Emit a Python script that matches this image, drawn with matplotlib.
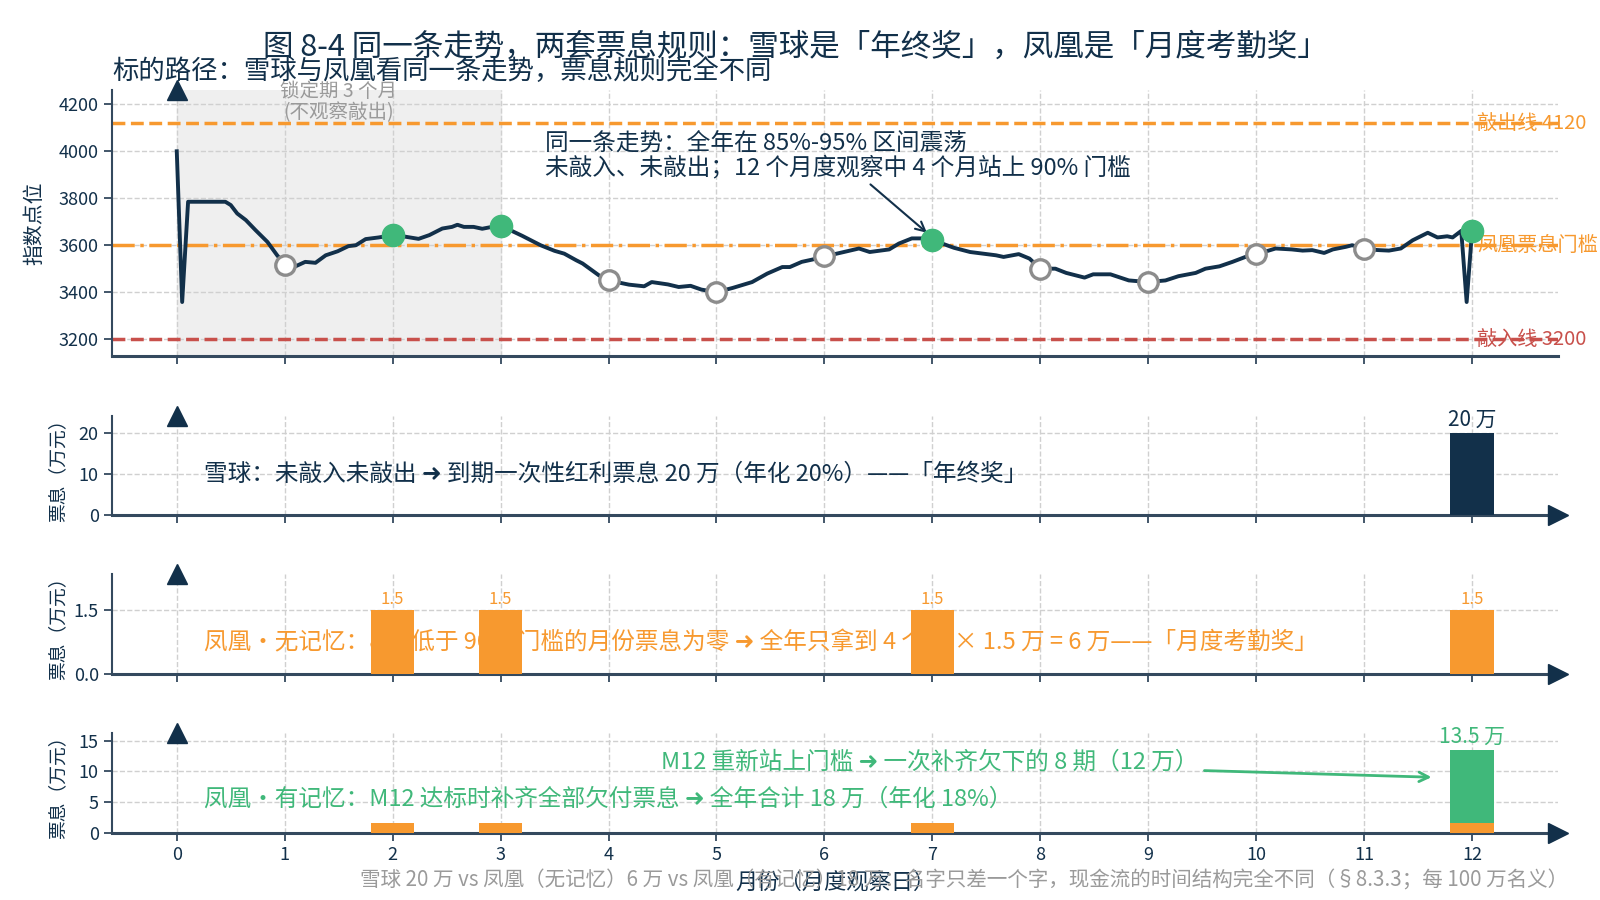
import matplotlib
matplotlib.use("Agg")
import matplotlib.pyplot as plt

plt.rcParams['font.family'] = ['Noto Sans CJK SC', 'DejaVu Sans']
plt.rcParams['axes.unicode_minus'] = False

NAVY = "#12304a"
ORANGE = "#f7992f"
RED = "#c8504b"
GREEN = "#40b87a"
RING = "#8c8c8c"
SPINE = "#34495e"
GRID = "#d0d0d0"

# ---------------------------------------------------------------------------
# data
# ---------------------------------------------------------------------------
months = list(range(13))
obs_months = list(range(1, 13))
obs_level = [3517, 3643, 3683, 3452, 3400, 3552, 3622, 3500, 3443, 3561, 3583, 3660]

path_x = [0.00, 0.05, 0.105, 0.45, 0.50, 0.56, 0.64, 0.73, 0.84, 0.93,
          1.00, 1.10, 1.19, 1.285, 1.38, 1.49, 1.59, 1.66, 1.75, 1.87,
          2.00, 2.12, 2.24, 2.34, 2.46, 2.55, 2.60, 2.66, 2.75, 2.83, 2.92,
          3.00, 3.09, 3.20, 3.37, 3.50, 3.59, 3.70, 3.76, 3.91,
          4.00, 4.19, 4.33, 4.40, 4.55, 4.65, 4.76, 4.86,
          5.00, 5.15, 5.33, 5.47, 5.61, 5.68, 5.79, 5.89,
          6.00, 6.18, 6.32, 6.42, 6.60, 6.69, 6.81, 6.92,
          7.00, 7.20, 7.35, 7.59, 7.66, 7.80, 7.90,
          8.00, 8.14, 8.24, 8.41, 8.49, 8.65, 8.82,
          9.00, 9.16, 9.28, 9.44, 9.53, 9.66, 9.78, 9.90,
          10.00, 10.18, 10.33, 10.43, 10.52, 10.63, 10.71, 10.83, 10.89,
          11.00, 11.14, 11.23, 11.34, 11.45, 11.59, 11.68, 11.77, 11.82, 11.90, 11.95,
          12.00]
path_y = [4000, 3358, 3785, 3785, 3771, 3735, 3707, 3664, 3614, 3557,
          3519, 3510, 3529, 3525, 3557, 3574, 3596, 3600, 3626, 3633,
          3643, 3636, 3627, 3643, 3671, 3678, 3687, 3678, 3678, 3670, 3678,
          3680, 3664, 3640, 3600, 3576, 3564, 3536, 3522, 3472,
          3450, 3432, 3425, 3443, 3433, 3422, 3427, 3411,
          3400, 3418, 3443, 3479, 3507, 3507, 3529, 3539,
          3552, 3571, 3586, 3571, 3582, 3607, 3629, 3629,
          3622, 3589, 3571, 3557, 3550, 3562, 3543,
          3500, 3500, 3482, 3462, 3476, 3476, 3450,
          3443, 3450, 3468, 3482, 3500, 3510, 3529, 3550,
          3561, 3586, 3582, 3577, 3579, 3567, 3582, 3593, 3600,
          3583, 3579, 3577, 3586, 3621, 3653, 3633, 3638, 3633, 3661, 3358,
          3660]

knock_out = 4120
coupon_barrier = 3600
knock_in = 3200

snowball_coupon = [0, 0, 0, 0, 0, 0, 0, 0, 0, 0, 0, 0, 20]
phoenix_nomem = [0, 0, 1.5, 1.5, 0, 0, 0, 1.5, 0, 0, 0, 0, 1.5]
phoenix_mem_paid = [0, 0, 1.5, 1.5, 0, 0, 0, 1.5, 0, 0, 0, 0, 1.5]
phoenix_mem_catchup = [0, 0, 0, 0, 0, 0, 0, 0, 0, 0, 0, 0, 12]

# ---------------------------------------------------------------------------
fig, axes = plt.subplots(4, 1, figsize=(16, 9), dpi=100, sharex=True,
                         gridspec_kw=dict(height_ratios=[2.68, 1, 1, 1]))
fig.subplots_adjust(left=0.070, right=0.974, top=0.900, bottom=0.075, hspace=0.421)
ax0, ax1, ax2, ax3 = axes

for ax in axes:
    ax.spines["top"].set_visible(False)
    ax.spines["right"].set_visible(False)
    ax.spines["left"].set_color(SPINE)
    ax.spines["left"].set_linewidth(1.5)
    ax.spines["bottom"].set_color(SPINE)
    ax.spines["bottom"].set_linewidth(2.2)
    ax.grid(True, linestyle="--", color=GRID, linewidth=1)
    ax.set_axisbelow(True)
    ax.tick_params(colors=SPINE, labelcolor=NAVY, labelsize=13, length=6, width=1.3)
    ax.set_xlim(-0.6, 12.8)
    ax.set_xticks(months)
    ax.plot(0, 1, marker="^", ms=15, color=NAVY, transform=ax.get_xaxis_transform(),
            clip_on=False, zorder=6)

for ax in axes[1:]:
    ax.plot(1, 0, marker=">", ms=15, color=NAVY, transform=ax.get_yaxis_transform(),
            clip_on=False, zorder=6)

# --- top: index path -------------------------------------------------------
ax0.axvspan(0, 3, color="#efefef", zorder=0)
ax0.axhline(knock_out, color=ORANGE, linestyle="--", linewidth=2.5, zorder=2)
ax0.axhline(coupon_barrier, color=ORANGE, linestyle="-.", linewidth=2.5, zorder=2)
ax0.axhline(knock_in, color=RED, linestyle="--", linewidth=2.5, zorder=2)
ax0.plot(path_x, path_y, color=NAVY, linewidth=2.8, zorder=3)

for m, v in zip(obs_months, obs_level):
    if v >= coupon_barrier:
        ax0.plot(m, v, "o", ms=16, color=GREEN, mec=GREEN, zorder=5)
    else:
        ax0.plot(m, v, "o", ms=14, mfc="white", mec=RING, mew=2.4, zorder=5)

ax0.text(12.05, knock_out, "敲出线 4120", color=ORANGE, fontsize=14.5, va="center", ha="left")
ax0.text(12.05, coupon_barrier, "凤凰票息门槛", color=ORANGE, fontsize=14.5, va="center", ha="left")
ax0.text(12.05, knock_in, "敲入线 3200", color=RED, fontsize=14.5, va="center", ha="left")
ax0.text(1.5, 4210, "锁定期 3 个月\n(不观察敲出)", color="#9a9a9a", fontsize=14,
         ha="center", va="center", linespacing=1.05)
ax0.annotate("同一条走势：全年在 85%-95% 区间震荡\n未敲入、未敲出；12 个月度观察中 4 个月站上 90% 门槛",
             xy=(6.97, 3645), xytext=(3.41, 4078), ha="left", va="top",
             fontsize=17, color=NAVY, linespacing=1.0,
             arrowprops=dict(arrowstyle="->", color=NAVY, lw=1.5))

ax0.set_ylim(3127, 4261)
ax0.set_yticks([3200, 3400, 3600, 3800, 4000, 4200])
ax0.set_ylabel("指数点位", fontsize=15, color=NAVY)
ax0.yaxis.set_label_coords(-0.046, 0.5)
ax0.set_title("标的路径：雪球与凤凰看同一条走势，票息规则完全不同", loc="left",
              fontsize=19, color=NAVY, pad=8)

# --- snowball ---------------------------------------------------------------
ax1.bar(months, snowball_coupon, width=0.4, color=NAVY, zorder=3)
for m, c in zip(months, snowball_coupon):
    if c > 0:
        ax1.text(m, c + 0.4, f"{c:g} 万", ha="center", va="bottom", fontsize=15, color=NAVY)
ax1.text(0.25, 10, "雪球：未敲入未敲出 ➜ 到期一次性红利票息 20 万（年化 20%）——「年终奖」",
         color=NAVY, fontsize=17, va="center", ha="left", zorder=2)
ax1.set_ylim(0, 24.2)
ax1.set_yticks([0, 10, 20])

# --- phoenix, no memory -----------------------------------------------------
ax2.bar(months, phoenix_nomem, width=0.4, color=ORANGE, zorder=3)
for m, c in zip(months, phoenix_nomem):
    if c > 0:
        ax2.text(m, c + 0.05, f"{c:g}", ha="center", va="bottom", fontsize=12, color=ORANGE)
ax2.text(0.25, 0.72, "凤凰·无记忆：8 个低于 90% 门槛的月份票息为零 ➜ 全年只拿到 4 个月 × 1.5 万 = 6 万——「月度考勤奖」",
         color=ORANGE, fontsize=17, va="center", ha="left", zorder=2)
ax2.set_ylim(0, 2.35)
ax2.set_yticks([0, 1.5])
ax2.set_yticklabels(["0.0", "1.5"])

# --- phoenix, memory --------------------------------------------------------
ax3.bar(months, phoenix_mem_paid, width=0.4, color=ORANGE, zorder=3)
ax3.bar(months, phoenix_mem_catchup, width=0.4, bottom=phoenix_mem_paid, color=GREEN, zorder=3)
for m, p, c in zip(months, phoenix_mem_paid, phoenix_mem_catchup):
    if c > 0:
        ax3.text(m, p + c + 0.3, f"{p + c:g} 万", ha="center", va="bottom", fontsize=15, color=GREEN)
ax3.text(0.25, 5.5, "凤凰·有记忆：M12 达标时补齐全部欠付票息 ➜ 全年合计 18 万（年化 18%）",
         color=GREEN, fontsize=17, va="center", ha="left", zorder=2)
ax3.annotate("M12 重新站上门槛 ➜ 一次补齐欠下的 8 期（12 万）", xy=(11.65, 9.0),
             xytext=(6.98, 11.4), ha="center", va="center", fontsize=17, color=GREEN,
             arrowprops=dict(arrowstyle="->", color=GREEN, lw=2))
ax3.set_ylim(0, 16.2)
ax3.set_yticks([0, 5, 10, 15])
ax3.set_xlabel("月份（月度观察日）", fontsize=16, color=NAVY, labelpad=5)

for ax in axes[1:]:
    ax.set_ylabel("票息（万元）", fontsize=13.5, color=NAVY)
    ax.yaxis.set_label_coords(-0.030, 0.5)

fig.text(0.497, 0.948, "图 8-4 同一条走势，两套票息规则：雪球是「年终奖」，凤凰是「月度考勤奖」",
         ha="center", va="center", fontsize=22, color=NAVY)
fig.text(0.98, 0.022, "雪球 20 万 vs 凤凰（无记忆）6 万 vs 凤凰（有记忆）18 万：名字只差一个字，现金流的时间结构完全不同（§8.3.3；每 100 万名义）",
         ha="right", va="center", fontsize=14.8, color="#9a9a9a")

fig.savefig("out.png", dpi=100)
